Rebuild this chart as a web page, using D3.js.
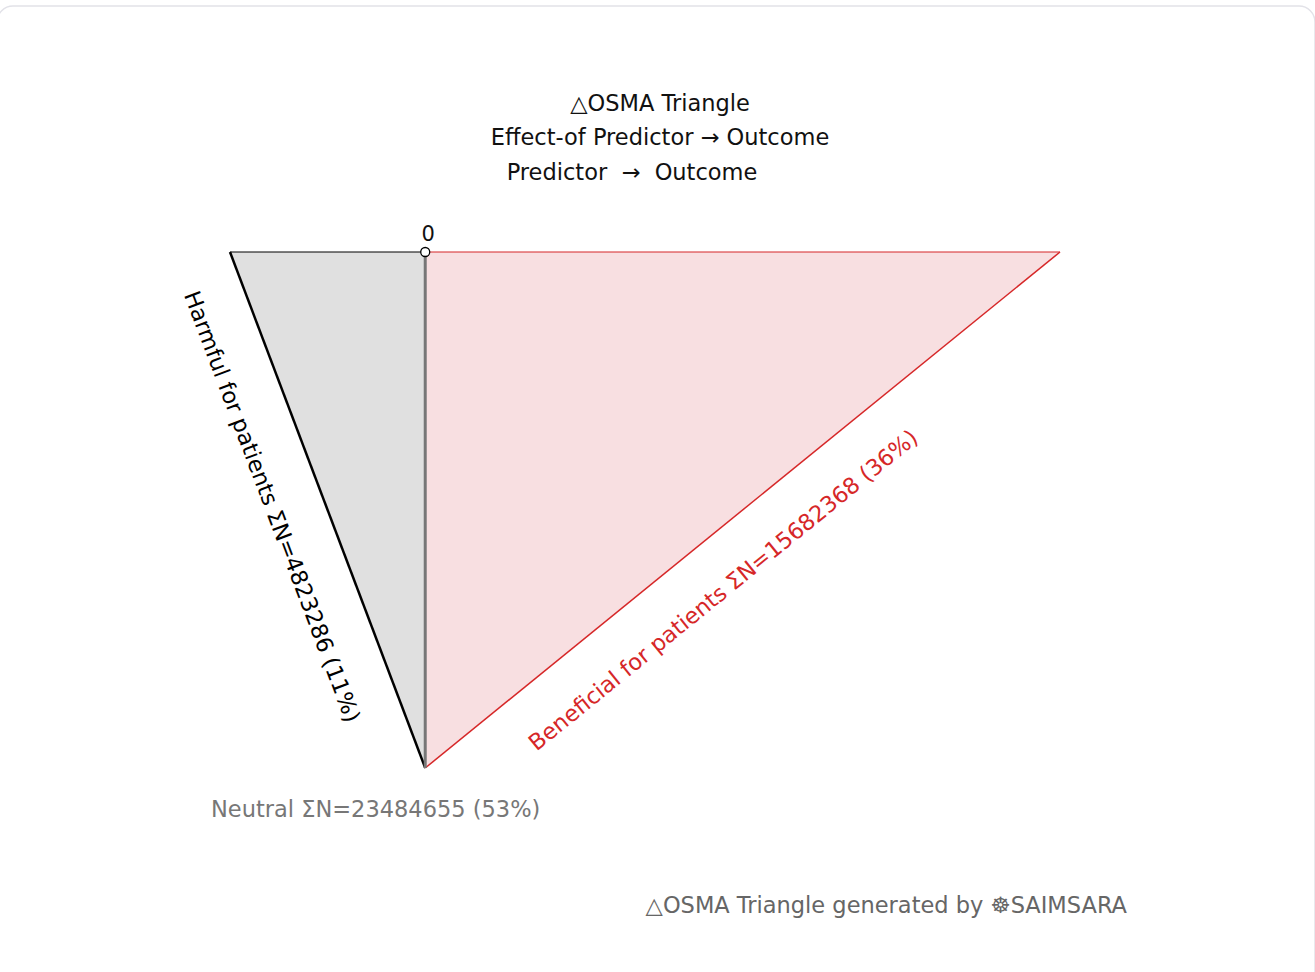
<!DOCTYPE html>
<html>
<head>
<meta charset="utf-8">
<script src="https://cdn.jsdelivr.net/npm/d3@7"></script>
<style>
html,body{margin:0;padding:0;background:#fff;overflow:hidden;}
svg{display:block;font-family:"DejaVu Sans",sans-serif;}
</style>
</head>
<body>
<svg id="chart" width="1315" height="972"></svg>
<script>
const titleLines = ["\u25B3OSMA Triangle", "Effect-of Predictor \u2192 Outcome", "Predictor  \u2192  Outcome"];
const categories = ["Harmful for patients", "Beneficial for patients", "Neutral"];
const sums = [4823286, 15682368, 23484655];
const percents = [11, 36, 53];
const originLabel = "0";
const footer = "\u25B3OSMA Triangle generated by \u2638SAIMSARA";

const FS = 22.5;
const svg = d3.select("#chart");
// card
svg.append("rect").attr("x",-3).attr("y",6).attr("width",1318).attr("height",1000)
  .attr("rx",16).attr("fill","#fff").attr("stroke","#e2e2e8").attr("stroke-width",1.5);

const harm = sums[0], ben = sums[1], neu = sums[2];
const x = d3.scaleLinear().domain([-harm, ben]).range([230, 1060]);
const y = d3.scaleLinear().domain([0, neu]).range([252, 768]);

// title
const titleX = [660, 660, 632];
const titleY = [111, 145, 180];
titleLines.forEach((t,i)=>{
  svg.append("text").attr("x",titleX[i]).attr("y",titleY[i]).attr("text-anchor","middle")
    .attr("font-size",FS).attr("fill","#111").attr("xml:space","preserve").style("white-space","pre").text(t);
});

// harmful triangle
svg.append("path").attr("d", d3.line()([[x(-harm),y(0)],[x(0),y(0)],[x(0),y(neu)]]) + "Z")
  .attr("fill","#e0e0e0").attr("stroke","none");
svg.append("line").attr("x1",x(-harm)).attr("y1",y(0)).attr("x2",x(0)).attr("y2",y(0))
  .attr("stroke","#000").attr("stroke-width",1.2);
svg.append("line").attr("x1",x(-harm)).attr("y1",y(0)).attr("x2",x(0)).attr("y2",y(neu))
  .attr("stroke","#000").attr("stroke-width",2.5);

// beneficial triangle
svg.append("path").attr("d", d3.line()([[x(0),y(0)],[x(ben),y(0)],[x(0),y(neu)]]) + "Z")
  .attr("fill","#f8dfe1").attr("stroke","none");
svg.append("line").attr("x1",x(0)).attr("y1",y(0)).attr("x2",x(ben)).attr("y2",y(0))
  .attr("stroke","#d62728").attr("stroke-width",1.2);
svg.append("line").attr("x1",x(ben)).attr("y1",y(0)).attr("x2",x(0)).attr("y2",y(neu))
  .attr("stroke","#d62728").attr("stroke-width",1.5);

// neutral axis
svg.append("line").attr("x1",x(0)).attr("y1",y(0)).attr("x2",x(0)).attr("y2",y(neu))
  .attr("stroke","#777").attr("stroke-width",3);

// origin
svg.append("circle").attr("cx",x(0)).attr("cy",y(0)).attr("r",4.5)
  .attr("fill","#fff").attr("stroke","#000").attr("stroke-width",1.3);
svg.append("text").attr("x",x(0)+3).attr("y",y(0)-11).attr("text-anchor","middle")
  .attr("font-size",21).attr("fill","#111").text(originLabel);

// harmful label along left edge
{
  const dx = x(0)-x(-harm), dy = y(neu)-y(0);
  const ang = Math.atan2(dy,dx)*180/Math.PI;
  svg.append("text")
    .attr("transform",`translate(${271},${507}) rotate(${ang})`)
    .attr("text-anchor","middle").attr("dominant-baseline","middle")
    .attr("font-size",FS).attr("fill","#000")
    .text(`${categories[0]} \u03A3N=${harm} (${percents[0]}%)`);
}
// beneficial label along hypotenuse
{
  const dx = x(ben)-x(0), dy = y(0)-y(neu);
  const ang = Math.atan2(dy,dx)*180/Math.PI;
  svg.append("text")
    .attr("transform",`translate(${724},${591}) rotate(${ang})`)
    .attr("text-anchor","middle").attr("dominant-baseline","middle")
    .attr("font-size",FS).attr("fill","#d62728")
    .text(`${categories[1]} \u03A3N=${ben} (${percents[1]}%)`);
}
// neutral label
svg.append("text").attr("x",211).attr("y",817).attr("font-size",FS).attr("fill","#777")
  .text(`${categories[2]} \u03A3N=${neu} (${percents[2]}%)`);

// footer
svg.append("text").attr("x",1127).attr("y",913).attr("text-anchor","end").attr("font-size",FS).attr("fill","#666")
  .text(footer);
</script>
</body>
</html>
